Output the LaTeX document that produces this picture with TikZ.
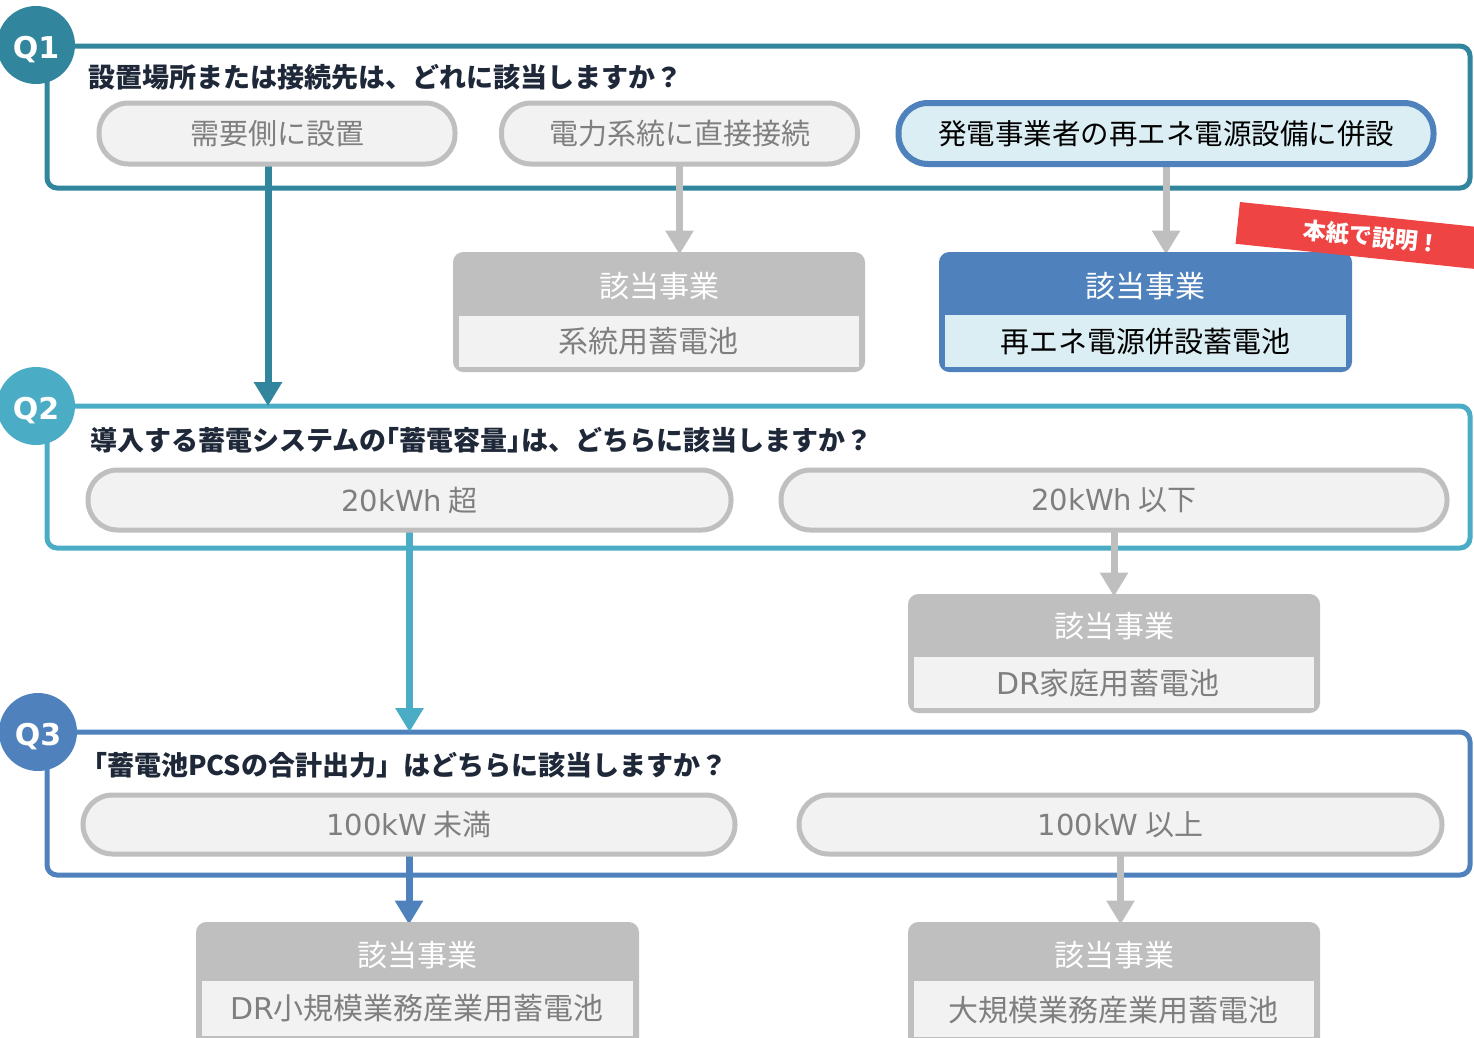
\documentclass[tikz,border=0pt]{standalone}
\usepackage{fontspec}
\setmainfont{Noto Sans CJK JP}
\newfontfamily\qfont{DejaVu Sans}
\newfontfamily\latinfont{DejaVu Sans}
\usetikzlibrary{arrows.meta}
\pgfdeclarelayer{back}
\pgfdeclarelayer{mid}
\pgfsetlayers{back,mid,main}
\definecolor{cone}{HTML}{31859C}
\definecolor{ctwo}{HTML}{4BACC6}
\definecolor{cthree}{HTML}{4F81BD}
\definecolor{pillline}{HTML}{BFBFBF}
\definecolor{pillfill}{HTML}{F2F2F2}
\definecolor{pilltext}{HTML}{7F7F7F}
\definecolor{lightblue}{HTML}{DBEEF4}
\definecolor{darktext}{HTML}{1E2838}
\definecolor{ribbon}{HTML}{EF4444}
\begin{document}
\begin{tikzpicture}[x=1pt,y=-1pt,
  qbox/.style={draw=#1, line width=5pt, rounded corners=10pt, anchor=north west, inner sep=0pt, outer sep=0pt},
  qcirc/.style={circle, fill=#1, minimum size=78pt, inner sep=0pt, text=white, text height=27pt, text depth=0pt, font=\qfont\bfseries\fontsize{30}{34}\selectfont},
  qtext/.style={anchor=west, inner sep=0pt, text=darktext, font=\bfseries\fontsize{27}{32}\selectfont},
  pill/.style={draw=pillline, fill=pillfill, line width=5pt, rounded corners=29.5pt, inner sep=0pt, outer sep=0pt, anchor=north west, text=pilltext, font=\fontsize{29}{34}\selectfont},
  selpill/.style={pill, draw=cthree, fill=lightblue, line width=6pt, text=black, font=\fontsize{28.5}{34}\selectfont},
  resbox/.style={draw=#1, fill=#1, line width=5pt, rounded corners=8pt, anchor=north west, inner sep=0pt, outer sep=0pt},
  resin/.style={fill=#1, anchor=north west, inner sep=0pt, outer sep=0pt},
  restext/.style={inner sep=0pt, text=pilltext, font=\fontsize{30}{35}\selectfont},
  reshdr/.style={inner sep=0pt, text=white, font=\fontsize{30}{35}\selectfont},
  arr/.style={draw=#1, line width=7pt, -{Triangle[width=27pt,length=24pt]}},
]
\useasboundingbox (0,0) rectangle (1474,1037);
\clip (0,0) rectangle (1474,1037);

% question frames
\begin{pgfonlayer}{back}
\node[qbox=cone, minimum width=1423pt, minimum height=142pt] (q1box) at (47,46) {};
\node[qbox=ctwo, minimum width=1423pt, minimum height=142pt] (q2box) at (47,406) {};
\node[qbox=cthree, minimum width=1423pt, minimum height=143pt] (q3box) at (47,732) {};
\end{pgfonlayer}

\node[qcirc=cone] (q1) at (36,45) {Q1};
\node[qcirc=ctwo] (q2) at (36,406) {Q2};
\node[qcirc=cthree] (q3) at (38,732) {Q3};

\node[qtext] (q1t) at (88,77) {設置場所または接続先は、どれに該当しますか？};
\node[qtext] (q2t) at (90,440) {導入する蓄電システムの\kern-0.5em「蓄電容量」\kern-0.5em は、どちらに該当しますか？};
\node[qtext] (q3t) at (80,765) {「蓄電池PCSの合計出力」はどちらに該当しますか？};

% result boxes
\node[resbox=pillline, minimum width=407pt, minimum height=115pt] (r1) at (455.5,254.5) {};
\node[resin=pillfill, minimum width=400pt, minimum height=51pt] (r1b) at (459,316) {};
\node[reshdr] (r1h) at (659,286) {該当事業};
\node[restext] (r1t) at (648,341) {系統用蓄電池};

\node[resbox=cthree, minimum width=408pt, minimum height=115pt] (r2) at (941.5,254.5) {};
\node[resin=lightblue, minimum width=401pt, minimum height=52pt] (r2b) at (945,315) {};
\node[reshdr] (r2h) at (1145,286) {該当事業};
\node[restext, text=black, font=\fontsize{29}{34}\selectfont] (r2t) at (1145,342) {再エネ電源併設蓄電池};

\node[resbox=pillline, minimum width=407pt, minimum height=114pt] (r3) at (910.5,596.5) {};
\node[resin=pillfill, minimum width=400pt, minimum height=51pt] (r3b) at (914,657) {};
\node[reshdr] (r3h) at (1114,626) {該当事業};
\node[restext] (r3t) at (1108,683) {{\latinfont DR}家庭用蓄電池};

\node[resbox=pillline, minimum width=438pt, minimum height=130pt] (r4) at (198.5,924.5) {};
\node[resin=pillfill, minimum width=431pt, minimum height=55pt] (r4b) at (202,981) {};
\node[reshdr] (r4h) at (417,955) {該当事業};
\node[restext] (r4t) at (417,1008) {{\latinfont DR}小規模業務産業用蓄電池};

\node[resbox=pillline, minimum width=407pt, minimum height=130pt] (r5) at (910.5,924.5) {};
\node[resin=pillfill, minimum width=400pt, minimum height=56pt] (r5b) at (914,981) {};
\node[reshdr] (r5h) at (1114,955) {該当事業};
\node[restext] (r5t) at (1113,1010) {大規模業務産業用蓄電池};

% answer pills
\node[pill, minimum width=356pt, minimum height=61pt] (p11) at (99,103) {需要側に設置};
\node[pill, minimum width=356pt, minimum height=61pt] (p12) at (501.5,103) {電力系統に直接接続};
\node[selpill, minimum width=535pt, minimum height=61pt] (p13) at (898.5,103) {発電事業者の再エネ電源設備に併設};
\node[pill, minimum width=643pt, minimum height=60pt] (p21) at (88,470) {{\latinfont 20kWh} 超};
\node[pill, minimum width=666pt, minimum height=60pt] (p22) at (781,470) {{\latinfont 20kWh} 以下};
\node[pill, minimum width=652pt, minimum height=59pt] (p31) at (83,795) {{\latinfont 100kW} 未満};
\node[pill, minimum width=643pt, minimum height=59pt] (p32) at (799,795) {{\latinfont 100kW} 以上};

% arrows
\begin{pgfonlayer}{mid}
\draw[arr=cone] ([xshift=-9pt]p11.south) -- ([xshift=-9pt]p11.south |- q2box.north);
\draw[arr=pillline] (p12.south) -- (p12.south |- r1.north);
\draw[arr=pillline] (p13.south) -- (p13.south |- r2.north);
\draw[arr=ctwo] (p21.south) -- (p21.south |- q3box.north);
\draw[arr=pillline] (p22.south) -- (p22.south |- r3.north);
\draw[arr=cthree] (p31.south) -- (p31.south |- r4.north);
\draw[arr=pillline] (p32.south) -- (p32.south |- r5.north);
\end{pgfonlayer}

% ribbon
\node[fill=ribbon, rotate=-6, minimum width=270pt, minimum height=42pt, inner sep=0pt, text=white, font=\bfseries\fontsize{23}{27}\selectfont] (rib) at (1372,237) {本紙で説明！};
\end{tikzpicture}
\end{document}
